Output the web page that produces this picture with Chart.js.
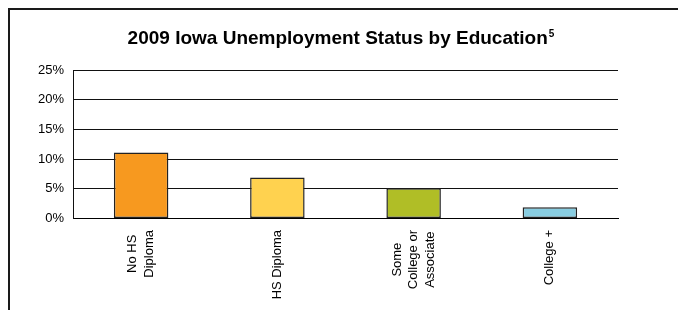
<!DOCTYPE html>
<html>
<head>
<meta charset="utf-8">
<script src="https://cdn.jsdelivr.net/npm/chart.js@4"></script>
<style>
  html, body { margin: 0; padding: 0; background: #fff; }
  #wrap { width: 678px; height: 310px; position: relative; }
</style>
</head>
<body>
<div id="wrap"><canvas id="c" width="678" height="310"></canvas></div>
<script>
const categories = [['No HS', 'Diploma'], ['HS Diploma'], ['Some', 'College or', 'Associate'], ['College +']];
const unemploymentRate = [11.1, 6.9, 5.1, 1.9];
const barColors = ['#F7991F', '#FFD24F', '#B0BE26', '#88CDE1'];
const yTicks = [0, 5, 10, 15, 20, 25];
const titleText = '2009 Iowa Unemployment Status by Education';
const titleNote = '5';

const FONT = '"Liberation Sans", Arial, sans-serif';

const framePlugin = {
  id: 'frame',
  beforeDraw(chart) {
    const ctx = chart.ctx;
    ctx.save();
    ctx.fillStyle = '#fff';
    ctx.fillRect(0, 0, chart.width, chart.height);
    ctx.fillStyle = '#1a1a1a';
    ctx.fillRect(8, 8, chart.width - 8, 2);
    ctx.fillRect(8, 8, 2, chart.height - 8);
    ctx.restore();
  },
  afterDraw(chart) {
    const ctx = chart.ctx;
    ctx.save();
    ctx.fillStyle = '#000';
    ctx.textBaseline = 'alphabetic';
    ctx.font = 'bold 19px ' + FONT;
    const w = ctx.measureText(titleText).width;
    ctx.font = 'bold 10px ' + FONT;
    const ws = ctx.measureText(titleNote).width;
    const x0 = 341 - (w + ws + 1) / 2;
    ctx.font = 'bold 19px ' + FONT;
    ctx.textAlign = 'left';
    ctx.fillText(titleText, x0, 44);
    ctx.font = 'bold 10px ' + FONT;
    ctx.fillText(titleNote, x0 + w + 1, 37);

    const xs = chart.scales.x;
    ctx.font = '13px ' + FONT;
    const lh = 16.5;
    chart.data.labels.forEach((lines, i) => {
      const x = xs.getPixelForTick(i);
      const maxW = Math.max(...lines.map(l => ctx.measureText(l).width));
      const cy = xs.top + 11.5 + maxW / 2;
      ctx.save();
      ctx.translate(x, cy);
      ctx.rotate(-Math.PI / 2);
      ctx.textAlign = 'center';
      ctx.textBaseline = 'middle';
      lines.forEach((l, j) => {
        ctx.fillText(l, 0, (j - (lines.length - 1) / 2) * lh);
      });
      ctx.restore();
    });
    ctx.restore();
  }
};

new Chart(document.getElementById('c'), {
  type: 'bar',
  data: {
    labels: categories,
    datasets: [{
      data: unemploymentRate,
      backgroundColor: barColors,
      borderColor: '#222',
      borderWidth: 1.5,
      borderSkipped: false,
      barPercentage: 0.4,
      categoryPercentage: 1.0
    }]
  },
  options: {
    responsive: false,
    animation: false,
    devicePixelRatio: 1,
    layout: { padding: { top: 70, right: 60, bottom: 0, left: 0 } },
    plugins: { legend: { display: false }, title: { display: false }, tooltip: { enabled: false } },
    scales: {
      x: {
        grid: { display: false },
        border: { display: true, color: '#000', width: 1 },
        ticks: { display: false },
        afterFit(scale) { scale.height = 91.5; }
      },
      y: {
        min: 0,
        max: 25,
        afterBuildTicks(scale) { scale.ticks = yTicks.map(v => ({ value: v })); },
        grid: { color: '#111', lineWidth: 1, drawTicks: false },
        border: { display: true, color: '#111', width: 1 },
        ticks: {
          color: '#000',
          padding: 9,
          font: { family: FONT, size: 13 },
          callback: v => v + '%'
        },
        afterFit(scale) { scale.width = 73; }
      }
    }
  },
  plugins: [framePlugin]
});
</script>
</body>
</html>
